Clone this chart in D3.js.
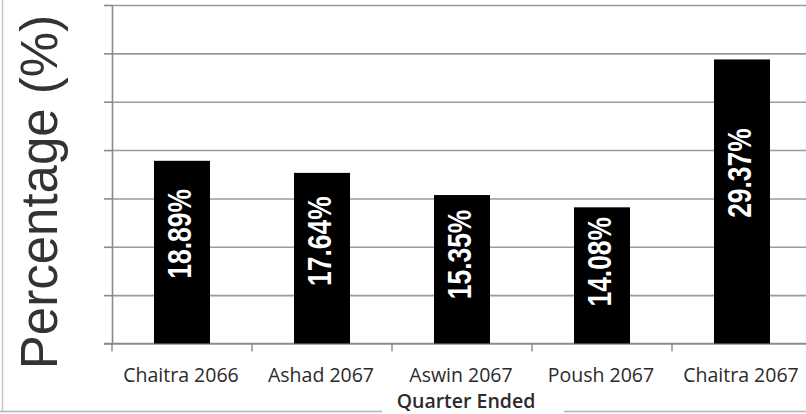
<!DOCTYPE html>
<html>
<head>
<meta charset="utf-8">
<script src="https://cdn.jsdelivr.net/npm/d3@7/dist/d3.min.js"></script>
<style>
  html, body { margin: 0; padding: 0; background: #fff; }
  svg { display: block; }
</style>
</head>
<body>
<svg id="chart" width="806" height="414"></svg>
<script>
// Quarterly percentages
const quarters = ["Chaitra 2066", "Ashad 2067", "Aswin 2067", "Poush 2067", "Chaitra 2067"];
const percentages = [18.89, 17.64, 15.35, 14.08, 29.37];
const valueLabels = ["18.89%", "17.64%", "15.35%", "14.08%", "29.37%"];
const yTicks = [0, 5, 10, 15, 20, 25, 30, 35];
const yTitle = "Percentage (%)";
const xTitle = "Quarter Ended";

const W = 806, H = 414;
const svg = d3.select("#chart");

const x = d3.scaleBand()
  .domain(quarters)
  .range([112, 812])
  .paddingInner(0.6)
  .paddingOuter(0.3);

const y = d3.scaleLinear()
  .domain([0, 35])
  .range([343.5, 5]);

// outer frame edges (left and bottom)
svg.append("line").attr("x1", 2.5).attr("x2", 2.5).attr("y1", 0).attr("y2", 411.5)
  .attr("stroke", "#c4c4c4").attr("stroke-width", 1.5);
svg.append("line").attr("x1", 0).attr("x2", W).attr("y1", 411.5).attr("y2", 411.5)
  .attr("stroke", "#b0b0b0").attr("stroke-width", 1.5);

// horizontal gridlines
const grid = svg.append("g")
  .attr("transform", "translate(112,0)")
  .call(d3.axisRight(y).tickValues(yTicks).tickSize(W - 112).tickFormat(""));
grid.select(".domain").remove();
grid.selectAll(".tick line").attr("stroke", "#9a9a9a").attr("stroke-width", 1.6);

// y axis with short outward ticks
const yAxis = svg.append("g")
  .attr("transform", "translate(112,0)")
  .call(d3.axisLeft(y).tickValues(yTicks).tickSizeInner(8).tickSizeOuter(0).tickFormat(""));
yAxis.select(".domain").attr("stroke", "#8a8a8a").attr("stroke-width", 1.6);
yAxis.selectAll(".tick line").attr("stroke", "#8a8a8a").attr("stroke-width", 1.6);

// x axis: baseline plus ticks at band boundaries
const xAxisG = svg.append("g").attr("transform", `translate(0,${y(0)})`);
xAxisG.append("line").attr("x1", 104).attr("x2", W).attr("y1", 0).attr("y2", 0)
  .attr("stroke", "#8a8a8a").attr("stroke-width", 1.6);
xAxisG.selectAll("line.xt")
  .data(quarters)
  .join("line")
  .attr("class", "xt")
  .attr("x1", d => x(d) + x.bandwidth() / 2 - x.step() / 2)
  .attr("x2", d => x(d) + x.bandwidth() / 2 - x.step() / 2)
  .attr("y1", 0).attr("y2", 8)
  .attr("stroke", "#8a8a8a").attr("stroke-width", 1.4);

// bars
svg.append("g").selectAll("rect")
  .data(percentages)
  .join("rect")
  .attr("x", (d, i) => x(quarters[i]))
  .attr("width", x.bandwidth())
  .attr("y", d => y(d))
  .attr("height", d => y(0) - y(d))
  .attr("fill", "#000");

// rotated value labels inside bars
svg.append("g").selectAll("text")
  .data(percentages)
  .join("text")
  .attr("transform", (d, i) => {
    const cx = x(quarters[i]) + x.bandwidth() / 2 + 9;
    const cy = y(d * 0.6);
    return `translate(${cx},${cy}) rotate(-90) scale(0.8,1)`;
  })
  .attr("text-anchor", "middle")
  .attr("fill", "#fff")
  .attr("font-family", "'Liberation Sans', Arial, sans-serif")
  .attr("font-weight", "bold")
  .attr("font-size", 33)
  .text((d, i) => valueLabels[i]);

// category labels
svg.append("g").selectAll("text")
  .data(quarters)
  .join("text")
  .attr("x", d => x(d) + x.bandwidth() / 2 - 1)
  .attr("y", 381.5)
  .attr("text-anchor", "middle")
  .attr("fill", "#2b2b2b")
  .attr("font-family", "'Open Sans', sans-serif")
  .attr("font-size", 19.5)
  .text(d => d);

// x axis title on a white box
const titleX = (x.range()[0] + x.range()[1]) / 2 + 4;
svg.append("rect").attr("x", titleX - 84).attr("y", 392).attr("width", 182).attr("height", 22).attr("fill", "#fff");
svg.append("text")
  .attr("x", titleX)
  .attr("y", 408)
  .attr("text-anchor", "middle")
  .attr("fill", "#2b2b2b")
  .attr("font-family", "'Open Sans', sans-serif")
  .attr("font-weight", 600)
  .attr("font-size", 19.5)
  .text(xTitle);

// y axis title
svg.append("text")
  .attr("transform", "translate(57,192) rotate(-90)")
  .attr("text-anchor", "middle")
  .attr("fill", "#333")
  .attr("font-family", "'Liberation Sans', Arial, sans-serif")
  .attr("font-size", 51)
  .text(yTitle);
</script>
</body>
</html>
